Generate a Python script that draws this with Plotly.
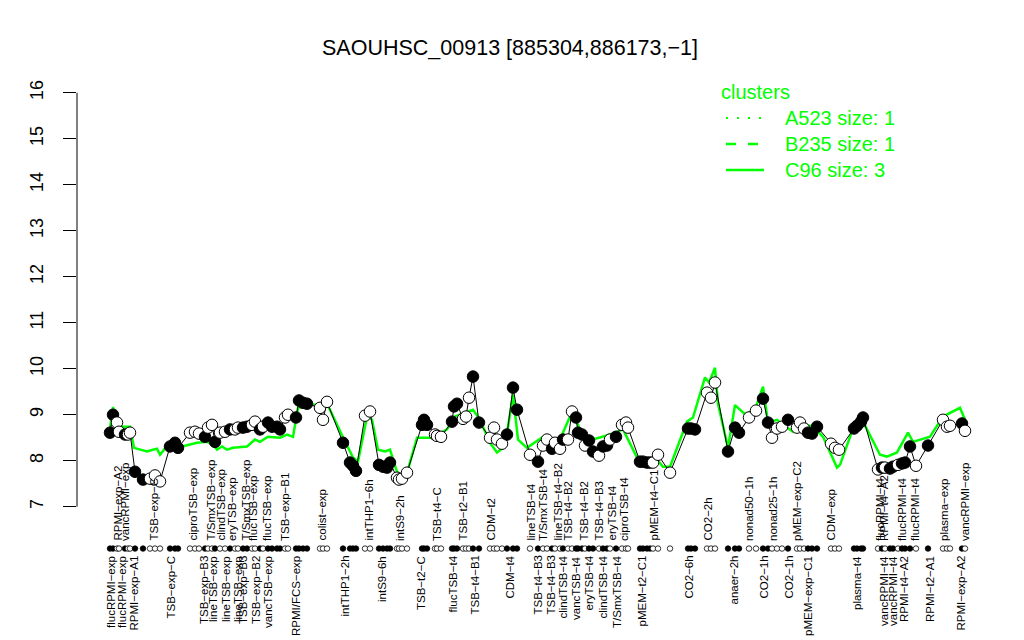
import plotly.graph_objects as go

# ---- data ----
sample_pos = [110, 113, 117, 119, 125, 128, 130, 135, 143, 150, 155, 160, 170, 175, 178,
              190, 195, 199, 205, 208, 212, 215, 220, 225, 230, 235, 238, 243, 247, 252,
              255, 260, 263, 268, 272, 277, 280, 285, 288, 296, 299, 303, 307, 320, 323,
              327, 343, 350, 353, 356, 365, 370, 379, 383, 387, 390, 397, 399, 402, 407,
              422, 424, 427, 435, 437, 441, 452, 454, 457, 463, 466, 469, 473, 479, 490,
              494, 497, 502, 507, 513, 517, 530, 538, 543, 547, 552, 555, 560, 563, 568,
              572, 576, 578, 582, 585, 589, 593, 599, 603, 607, 610, 616, 622, 626, 628,
              640, 643, 647, 650, 653, 658, 670, 688, 691, 695, 707, 711, 715, 728, 735,
              739, 749, 756, 763, 768, 772, 777, 782, 788, 797, 800, 804, 808, 812, 817,
              831, 835, 839, 854, 857, 861, 863, 878, 882, 885, 890, 893, 898, 902, 905,
              910, 916, 928, 943, 947, 950, 962, 965]
expression = [8.61, 9.00, 8.83, 8.63, 8.57, 8.57, 8.61, 7.76, 7.59, 7.61, 7.68, 7.55, 8.31, 8.39, 8.28,
              8.61, 8.63, 8.59, 8.52, 8.72, 8.78, 8.41, 8.61, 8.63, 8.68, 8.68, 8.72, 8.72, 8.74, 8.78,
              8.85, 8.68, 8.74, 8.83, 8.74, 8.74, 8.68, 8.94, 9.00, 8.94, 9.31, 9.26, 9.24, 9.15, 8.89,
              9.28, 8.39, 7.96, 7.89, 7.78, 8.98, 9.07, 7.91, 7.87, 7.85, 7.96, 7.63, 7.59, 7.61, 7.74,
              8.78, 8.89, 8.78, 8.57, 8.54, 8.52, 8.85, 9.18, 9.24, 8.91, 8.96, 9.37, 9.83, 8.83, 8.50,
              8.72, 8.46, 8.37, 8.57, 9.59, 9.11, 8.13, 7.98, 8.33, 8.46, 8.26, 8.39, 8.26, 8.46, 8.46,
              9.07, 8.94, 8.61, 8.57, 8.33, 8.44, 8.20, 8.11, 8.31, 8.33, 8.46, 8.52, 8.78, 8.83, 8.72,
              7.98, 7.98, 7.96, 7.96, 7.96, 8.13, 7.74, 8.70, 8.70, 8.68, 9.48, 9.37, 9.70, 8.20, 8.72,
              8.61, 8.94, 9.09, 9.35, 8.83, 8.50, 8.70, 8.74, 8.89, 8.72, 8.83, 8.70, 8.61, 8.59, 8.74,
              8.37, 8.28, 8.24, 8.70, 8.76, 8.85, 8.94, 7.81, 7.85, 7.85, 7.83, 7.87, 7.91, 7.94, 7.96,
              8.31, 7.89, 8.33, 8.89, 8.74, 8.76, 8.81, 8.65]
filled = [1, 1, 0, 0, 1, 0, 0, 1, 1, 0, 0, 0, 1, 1, 1,
          0, 0, 0, 1, 0, 0, 1, 0, 0, 1, 0, 0, 1, 1, 0,
          0, 1, 0, 1, 1, 1, 1, 0, 0, 1, 1, 1, 1, 0, 0,
          0, 1, 1, 1, 1, 0, 0, 1, 1, 1, 1, 0, 0, 0, 0,
          1, 1, 1, 0, 0, 0, 1, 1, 1, 0, 0, 0, 1, 1, 0,
          0, 0, 0, 1, 1, 1, 0, 1, 0, 0, 1, 0, 0, 1, 0,
          0, 1, 1, 1, 0, 1, 1, 0, 1, 1, 0, 1, 0, 0, 0,
          1, 1, 1, 1, 0, 0, 0, 1, 1, 1, 0, 0, 0, 1, 1,
          1, 0, 0, 1, 1, 0, 0, 0, 1, 0, 0, 0, 1, 1, 1,
          0, 0, 0, 1, 1, 1, 1, 0, 1, 0, 1, 1, 0, 1, 1,
          1, 0, 1, 0, 0, 0, 1, 0]

cluster_pos = [110, 113, 116, 130, 134, 147, 153, 157, 160, 164, 168, 182, 197, 207, 213,
               217, 222, 227, 233, 247, 255, 260, 268, 280, 287, 293, 298, 310, 327, 343,
               353, 358, 367, 372, 378, 385, 390, 397, 403, 408, 417, 433, 447, 455, 467,
               473, 480, 490, 497, 505, 513, 518, 527, 543, 560, 570, 577, 583, 593, 610,
               623, 637, 657, 663, 670, 687, 693, 705, 709, 715, 718, 728, 735, 745, 755,
               763, 768, 777, 787, 793, 800, 813, 823, 837, 840, 853, 863, 880, 887, 897,
               908, 913, 930, 943, 960, 965]
cluster_C96 = [8.71, 9.17, 8.74, 8.74, 8.28, 8.20, 8.24, 8.26, 8.13, 8.24, 8.35, 8.31, 8.39, 8.41, 8.35,
               8.24, 8.31, 8.24, 8.28, 8.31, 8.46, 8.41, 8.52, 8.50, 8.57, 8.52, 9.15, 9.21, 9.24, 8.51,
               8.07, 7.98, 8.96, 8.89, 8.24, 8.20, 8.24, 7.76, 7.65, 7.81, 8.50, 8.50, 8.68, 8.96, 9.07,
               9.11, 8.89, 8.39, 8.18, 8.31, 9.44, 8.46, 8.28, 8.52, 8.46, 8.96, 8.83, 8.52, 8.46, 8.57,
               8.68, 8.07, 8.02, 7.87, 7.87, 8.85, 8.94, 9.81, 9.70, 10.02, 9.24, 8.28, 9.21, 9.01, 9.11,
               9.61, 8.83, 8.89, 8.72, 8.63, 8.81, 8.74, 8.52, 7.85, 7.91, 8.70, 8.85, 8.13, 8.09, 8.18,
               8.61, 8.41, 8.52, 8.96, 9.15, 8.89]

upper_labels = ["RPMI\u2212exp\u2212A2", "vancRPMI\u2212exp", "TSB\u2212exp\u2212C", "ciproTSB\u2212exp",
                "T/SmxTSB\u2212exp", "clindTSB\u2212exp", "eryTSB\u2212exp", "T/SmxTSB\u2212exp",
                "flucTSB\u2212exp", "flucTSB\u2212exp", "TSB\u2212exp\u2212B1", "colist\u2212exp",
                "intTHP1\u22126h", "intS9\u22122h", "TSB\u2212t4\u2212C", "TSB\u2212t2\u2212B1", "CDM\u2212t2",
                "lineTSB\u2212t4", "T/SmxTSB\u2212t4", "lineTSB\u2212t4\u2212B2", "TSB\u2212t4\u2212B2",
                "TSB\u2212t4\u2212B2", "TSB\u2212t4\u2212B3", "eryTSB\u2212t4", "ciproTSB\u2212t4",
                "pMEM\u2212t4\u2212C1", "CO2\u22122h", "nonad50\u22121h", "nonad25\u22121h",
                "pMEM\u2212exp\u2212C2", "CDM\u2212exp", "flucRPMI\u2212t4", "RPMI\u2212t4\u2212A2",
                "flucRPMI\u2212t4", "flucRPMI\u2212t4", "plasma\u2212exp", "vancRPMI\u2212exp"]
upper_pos = [117, 125, 153, 192, 210, 220, 232, 245, 253, 267, 285, 321, 368, 400, 437, 462, 490,
             530, 543, 557, 567, 583, 598, 611, 624, 653, 707, 749, 773, 797, 830, 880, 884,
             902, 915, 944, 965]

lower_labels = ["flucRPMI\u2212exp", "flucRPMI\u2212exp", "RPMI\u2212exp\u2212A1", "TSB\u2212exp\u2212C",
                "TSB\u2212exp\u2212B3", "lineTSB\u2212exp", "lineTSB\u2212exp", "lineTSB\u2212exp",
                "TSB\u2212exp\u2212B3", "TSB\u2212exp\u2212B2", "vancTSB\u2212exp", "RPMI/FCS\u2212exp",
                "intTHP1\u22122h", "intS9\u22126h", "TSB\u2212t2\u2212C", "flucTSB\u2212t4", "TSB\u2212t4\u2212B1",
                "CDM\u2212t4", "TSB\u2212t4\u2212B3", "TSB\u2212t4\u2212B3", "clindTSB\u2212t4", "vancTSB\u2212t4",
                "eryTSB\u2212t4", "clindTSB\u2212t4", "T/SmxTSB\u2212t4", "pMEM\u2212t2\u2212C1", "CO2\u22126h",
                "anaer\u22122h", "CO2\u22121h", "CO2\u22121h", "pMEM\u2212exp\u2212C1", "plasma\u2212t4",
                "vancRPMI\u2212t4", "vancRPMI\u2212t4", "RPMI\u2212t4\u2212A2", "RPMI\u2212t2\u2212A1",
                "RPMI\u2212exp\u2212A2"]
lower_pos = [111, 122, 133, 170, 204, 213, 226, 238, 243, 256, 268, 296, 344, 382, 421, 452, 474,
             509, 537, 550, 562, 576, 588, 602, 617, 641, 688, 733, 763, 788, 808, 857, 884,
             893, 904, 930, 960]

y_ticks = [7, 8, 9, 10, 11, 12, 13, 14, 15, 16]
title_text = "SAOUHSC_00913 [885304,886173,\u22121]"
legend_title = "clusters"
legend_names = ["A523 size: 1", "B235 size: 1", "C96 size: 3"]
legend_dashes = ["2px,9px", "10px,12px", "solid"]

# ---- figure geometry ----
# The page body has an 8px margin, so the figure is made 8px smaller and
# all target page positions are shifted by that offset.
OFF = 8
W, H = 1024 - OFF, 640 - OFF
PLOT_L, PLOT_R, PLOT_T, PLOT_B = 77, 1000, 79, 555   # target page pixels of the plot area
ML, MR = PLOT_L - OFF, W - (PLOT_R - OFF)
MT, MB = PLOT_T - OFF, H - (PLOT_B - OFF)
PW, PH = PLOT_R - PLOT_L, PLOT_B - PLOT_T

GREEN = "#00ff00"
FONT = "Liberation Sans, Arial, sans-serif"


def px_x(px):
    return (px - PLOT_L) / PW


def px_y(py):
    return (PLOT_B - py) / PH


fill_colors = ["black" if f else "white" for f in filled]
row_level = 6.09

fig = go.Figure()
fig.add_trace(go.Scatter(x=cluster_pos, y=cluster_C96, mode="lines", name=legend_names[2],
                         showlegend=False, line=dict(color=GREEN, width=2.5)))
fig.add_trace(go.Scatter(x=sample_pos, y=expression, mode="lines+markers", showlegend=False,
                         line=dict(color="black", width=1),
                         marker=dict(size=11.5, color=fill_colors, line=dict(color="black", width=1))))
fig.add_trace(go.Scatter(x=sample_pos, y=[row_level] * len(sample_pos), mode="markers",
                         showlegend=False,
                         marker=dict(size=5.5, color=fill_colors, line=dict(color="black", width=0.8))))

ann = []
for lab, p in zip(upper_labels, upper_pos):
    ann.append(dict(x=p, y=px_y(543), xref="x", yref="paper", text=lab, showarrow=False,
                    textangle=-90, xanchor="center", yanchor="bottom",
                    font=dict(size=11.5, color="black", family=FONT)))
for lab, p in zip(lower_labels, lower_pos):
    ann.append(dict(x=p, y=px_y(554), xref="x", yref="paper", text=lab, showarrow=False,
                    textangle=-90, xanchor="center", yanchor="top",
                    font=dict(size=11.5, color="black", family=FONT)))

# manual legend (R style)
ann.append(dict(x=px_x(719), y=px_y(92), xref="paper", yref="paper", text=legend_title,
                showarrow=False, xanchor="left", yanchor="middle",
                font=dict(size=20, color=GREEN, family=FONT)))
shapes = [dict(type="line", xref="paper", yref="y", x0=0, x1=0, y0=7, y1=16,
               line=dict(color="black", width=1))]
for i, (name, dash) in enumerate(zip(legend_names, legend_dashes)):
    yy = 118 + 26 * i
    ann.append(dict(x=px_x(783), y=px_y(yy), xref="paper", yref="paper", text=name,
                    showarrow=False, xanchor="left", yanchor="middle",
                    font=dict(size=20, color=GREEN, family=FONT)))
    shapes.append(dict(type="line", xref="paper", yref="paper", x0=px_x(726), x1=px_x(764),
                       y0=px_y(yy), y1=px_y(yy),
                       line=dict(color=GREEN, width=2.5 if dash != "2px,9px" else 2, dash=dash)))

fig.update_layout(
    width=W, height=H,
    margin=dict(l=ML, r=MR, t=MT, b=MB, autoexpand=False),
    paper_bgcolor="white", plot_bgcolor="white",
    font=dict(family=FONT, color="black"),
    title=dict(text=title_text, x=(510 - OFF) / W, xref="container", y=1 - (47 - OFF) / H,
               yref="container", xanchor="center", yanchor="middle",
               font=dict(size=21.5, color="black", family=FONT)),
    xaxis=dict(range=[PLOT_L, PLOT_R], visible=False, showgrid=False, zeroline=False),
    yaxis=dict(range=[5.95, 16.3], tickvals=y_ticks, ticktext=[str(t) for t in y_ticks],
               ticks="outside", ticklen=13, tickwidth=1, tickcolor="black", tickangle=-90,
               tickfont=dict(size=18, color="black", family=FONT), showgrid=False,
               zeroline=False, showline=False, ticklabelstandoff=13),
    showlegend=False,
    annotations=ann,
    shapes=shapes,
)

fig.write_html("out.html")
